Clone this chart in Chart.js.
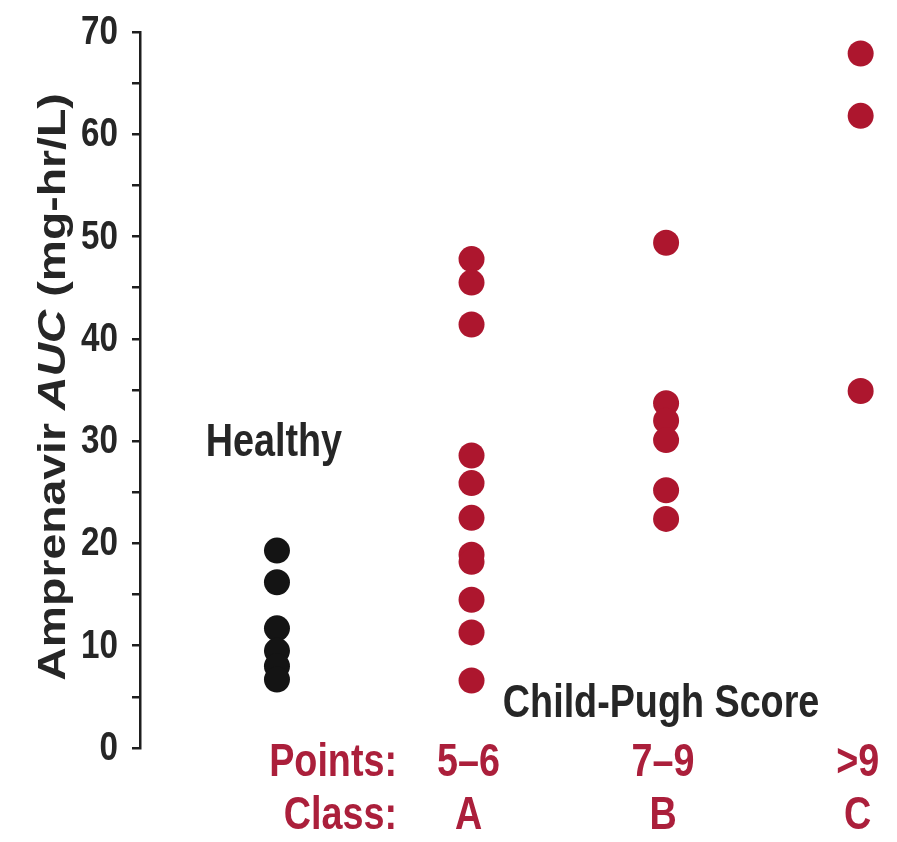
<!DOCTYPE html>
<html>
<head>
<meta charset="utf-8">
<script src="https://cdn.jsdelivr.net/npm/chart.js@4/dist/chart.umd.min.js"></script>
<style>
  html, body { margin: 0; padding: 0; background: #ffffff; overflow: hidden; }
  #wrap { width: 897px; height: 842px; position: relative; }
</style>
</head>
<body>
<div id="wrap"><canvas id="c"></canvas></div>
<script>
// Amprenavir exposure by hepatic function group
const groupX = [1, 2, 3, 4];                 // Healthy, Class A, Class B, Class C
const healthyAUC = [19.3, 16.2, 11.7, 9.5, 8.0, 6.7];
const classA_AUC = [47.8, 45.5, 41.4, 28.6, 25.9, 22.5, 18.9, 18.2, 14.5, 11.3, 6.6];
const classB_AUC = [49.4, 33.7, 32.0, 30.1, 25.2, 22.4];
const classC_AUC = [67.9, 61.8, 34.9];
const pointsLabels = ['5–6', '7–9', '>9'];
const classLabels = ['A', 'B', 'C'];
const yTickLabels = ['0', '10', '20', '30', '40', '50', '60', '70'];

const DARK = '#262626';
const RED_TEXT = '#ab1f3b';
const RED_DOT = '#ad162e';
const BLACK_DOT = '#141414';
const FAMILY = "'Liberation Sans', Arial, Helvetica, sans-serif";

const toPoints = (x, arr) => arr.map(v => ({ x: x, y: v }));

function drawText(ctx, text, x, y, opts) {
  ctx.save();
  ctx.font = (opts.italic ? 'italic ' : '') + 'bold ' + opts.size + 'px ' + FAMILY;
  ctx.fillStyle = opts.color;
  ctx.textAlign = opts.align || 'left';
  ctx.textBaseline = 'alphabetic';
  ctx.translate(x, y);
  ctx.scale(opts.sx || 1, 1);
  ctx.fillText(text, 0, 0);
  ctx.restore();
}

const labelsPlugin = {
  id: 'labelsPlugin',
  afterDraw(chart) {
    const ctx = chart.ctx;
    const xs = chart.scales.x;
    const ys = chart.scales.y;

    // y tick labels at every 10 units
    ys.ticks.forEach(t => {
      const label = String(t.value);
      if (!yTickLabels.includes(label)) return;
      const py = ys.getPixelForValue(t.value);
      drawText(ctx, label, 118, py + 12, { size: 40, sx: 0.83, color: DARK, align: 'right' });
    });

    // rotated y axis title with italic AUC
    const segs = [
      { t: 'Amprenavir ', italic: false },
      { t: 'AUC', italic: true },
      { t: ' (mg-hr/L)', italic: false }
    ];
    const size = 38, stretch = 1.22;
    ctx.save();
    let total = 0;
    segs.forEach(s => {
      ctx.font = (s.italic ? 'italic ' : '') + 'bold ' + size + 'px ' + FAMILY;
      s.w = ctx.measureText(s.t).width;
      total += s.w;
    });
    ctx.translate(65, 387);
    ctx.rotate(-Math.PI / 2);
    ctx.scale(stretch, 1);
    ctx.fillStyle = DARK;
    ctx.textBaseline = 'alphabetic';
    ctx.textAlign = 'left';
    let cx = -total / 2;
    segs.forEach(s => {
      ctx.font = (s.italic ? 'italic ' : '') + 'bold ' + size + 'px ' + FAMILY;
      ctx.fillText(s.t, cx, 0);
      cx += s.w;
    });
    ctx.restore();

    // group annotations
    const hx = xs.getPixelForValue(groupX[0]);
    drawText(ctx, 'Healthy', hx - 3, 456, { size: 46, sx: 0.82, color: DARK, align: 'center' });
    drawText(ctx, 'Child-Pugh Score', xs.getPixelForValue(groupX[2]) - 5, 717, { size: 46, sx: 0.82, color: DARK, align: 'center' });

    drawText(ctx, 'Points:', 397, 776, { size: 46, sx: 0.82, color: RED_TEXT, align: 'right' });
    drawText(ctx, 'Class:', 397, 829, { size: 46, sx: 0.82, color: RED_TEXT, align: 'right' });
    for (let i = 0; i < 3; i++) {
      const px = xs.getPixelForValue(groupX[i + 1]) - 3;
      drawText(ctx, pointsLabels[i], px, 776, { size: 46, sx: 0.82, color: RED_TEXT, align: 'center' });
      drawText(ctx, classLabels[i], px, 829, { size: 46, sx: 0.82, color: RED_TEXT, align: 'center' });
    }
  }
};

const dotStyle = (color) => ({
  backgroundColor: color,
  borderColor: color,
  borderWidth: 0,
  pointRadius: 13,
  pointHoverRadius: 13
});

new Chart(document.getElementById('c'), {
  type: 'scatter',
  data: {
    datasets: [
      Object.assign({ label: 'Healthy', data: toPoints(groupX[0], healthyAUC) }, dotStyle(BLACK_DOT)),
      Object.assign({ label: 'Class A', data: toPoints(groupX[1], classA_AUC) }, dotStyle(RED_DOT)),
      Object.assign({ label: 'Class B', data: toPoints(groupX[2], classB_AUC) }, dotStyle(RED_DOT)),
      Object.assign({ label: 'Class C', data: toPoints(groupX[3], classC_AUC) }, dotStyle(RED_DOT))
    ]
  },
  options: {
    responsive: true,
    maintainAspectRatio: false,
    animation: false,
    layout: { padding: { top: 32, bottom: 94, right: 6, left: 0 } },
    plugins: { legend: { display: false }, tooltip: { enabled: false } },
    scales: {
      x: { type: 'linear', min: 0.296, max: 4.12, display: false },
      y: {
        min: 0,
        max: 70,
        afterFit(scale) { scale.width = 140; },
        ticks: { display: false, stepSize: 5 },
        grid: {
          drawOnChartArea: false,
          drawTicks: true,
          tickLength: 8,
          tickColor: '#1e1e1e',
          lineWidth: 2.5
        },
        border: { display: true, color: '#1e1e1e', width: 2.5 }
      }
    }
  },
  plugins: [labelsPlugin]
});
</script>
</body>
</html>
